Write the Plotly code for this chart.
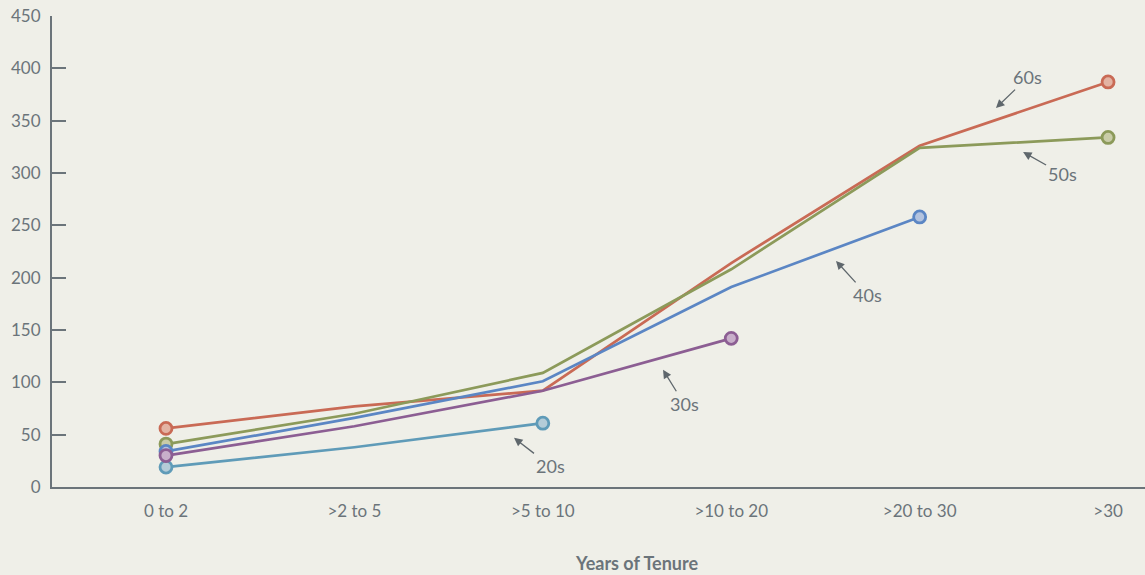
import plotly.graph_objects as go

categories = ["0 to 2", ">2 to 5", ">5 to 10", ">10 to 20", ">20 to 30", ">30"]
y_ticks = [0, 50, 100, 150, 200, 250, 300, 350, 400, 450]

s20 = [19, 38, 61]
s30 = [30, 58, 92, 142]
s40 = [34, 66, 101, 191, 258]
s50 = [41, 70, 109, 208, 324, 334]
s60 = [56, 77, 92, 214, 326, 387]

series = [
    ("20s", s20, "#5f9bb8", "#b4ccd8"),
    ("60s", s60, "#c96a55", "#e3b3a3"),
    ("50s", s50, "#8c9a5a", "#c9cca8"),
    ("40s", s40, "#5b86c4", "#b3c3df"),
    ("30s", s30, "#8c5e93", "#c8afca"),
]

# annotation anchor points (category index, value) and text offsets in px
labels = [
    ("60s", 4.405, 362, 32, -31),
    ("50s", 4.549, 320, 39, 22),
    ("40s", 3.556, 216, 31, 34),
    ("30s", 2.638, 112, 21, 34),
    ("20s", 1.847, 47, 36, 28),
]

gray = "#6b747a"
bg = "#efefe8"
font = "Lato"

fig = go.Figure()
for name, vals, col, fill in series:
    n = len(vals)
    ends = [0, n - 1]
    fig.add_trace(go.Scatter(
        x=list(range(n)), y=vals, mode="lines", name=name,
        line=dict(color=col, width=2.7), showlegend=False,
    ))
    fig.add_trace(go.Scatter(
        x=ends, y=[vals[i] for i in ends], mode="markers", name=name,
        marker=dict(size=12, color=fill, line=dict(color=col, width=2.8)),
        showlegend=False,
    ))

for txt, x, y, ax, ay in labels:
    fig.add_annotation(
        x=x, y=y, xref="x", yref="y", text=txt, showarrow=True,
        ax=ax, ay=ay, arrowhead=2, arrowsize=1.3, arrowwidth=1.3,
        arrowcolor="#5f676c", font=dict(family=font, size=18, color=gray),
    )

fig.add_annotation(
    x=(636 - 52) / (1145 - 52), xref="paper", y=(487 - 563) / 471, yref="paper",
    yanchor="middle", text="<b>Years of Tenure</b>",
    showarrow=False, font=dict(family=font, size=18, color=gray),
)

fig.update_layout(
    width=1145, height=575,
    margin=dict(l=52, r=0, t=16, b=88),
    paper_bgcolor=bg, plot_bgcolor=bg,
    font=dict(family=font, size=16, color=gray),
    xaxis=dict(
        range=[-0.605, 5.196], tickmode="array", tickvals=list(range(len(categories))),
        ticktext=categories, showgrid=False, zeroline=False,
        showline=True, linecolor=gray, linewidth=2, ticks="",
        tickfont=dict(family=font, size=17, color=gray), ticklabelstandoff=8,
    ),
    yaxis=dict(
        range=[0, 450], tickvals=y_ticks, showgrid=False, zeroline=False,
        showline=True, linecolor=gray, linewidth=2, ticks="inside", ticklen=14,
        tickwidth=1.5, tickcolor=gray, ticklabelstandoff=6,
        tickfont=dict(family=font, size=17, color=gray),
    ),
)

fig.write_html(
    "out.html",
    config={"displayModeBar": False},
    post_script="document.body.style.margin='0';document.body.style.background='#efefe8';",
)
